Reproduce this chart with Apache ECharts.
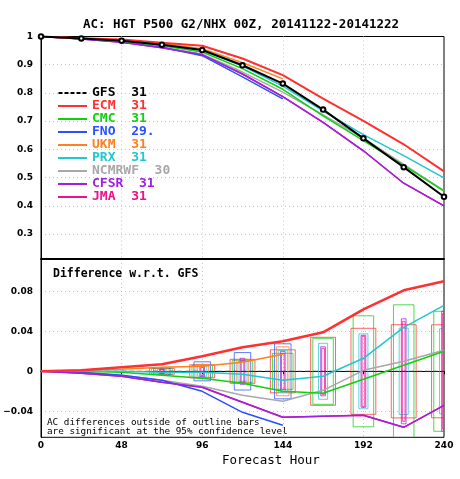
<!DOCTYPE html>
<html lang="en">
<head>
    <meta charset="UTF-8">
    <title>AC HGT P500</title>
    <script src="https://cdn.jsdelivr.net/npm/echarts@6.0.0/dist/echarts.min.js"></script>
    <style>
        html, body { margin: 0; padding: 0; background: #fff; }
        #chart { width: 460px; height: 479px; }
    </style>
</head>
<body>
<div id="chart"></div>
<script>
    // forecast hours and case counts
    var hours = [0, 24, 48, 72, 96, 120, 144, 168, 192, 216, 240];
    var boxHours = [72, 96, 120, 144, 168, 192, 216, 240];
    var models = ['GFS', 'ECM', 'CMC', 'FNO', 'UKM', 'PRX', 'NCMRWF', 'CFSR', 'JMA'];
    var caseCounts = ['31', '31', '31', '29.', '31', '31', '30', '31', '31'];

    // anomaly correlation (top panel)
    var acGFS    = [1.0, 0.993, 0.985, 0.971, 0.952, 0.898, 0.833, 0.741, 0.639, 0.537, 0.432];
    var acECM    = [1.0, 0.994, 0.989, 0.978, 0.967, 0.922, 0.863, 0.780, 0.701, 0.618, 0.522];
    var acCMC    = [1.0, 0.993, 0.984, 0.967, 0.945, 0.886, 0.813, 0.719, 0.631, 0.543, 0.452];
    var acFNO    = [1.0, 0.992, 0.981, 0.962, 0.932, 0.857, 0.779];
    var acUKM    = [1.0, 0.994, 0.987, 0.975, 0.957, 0.907, 0.850];
    var acPRX    = [1.0, 0.993, 0.985, 0.970, 0.951, 0.895, 0.824, 0.736, 0.652, 0.578, 0.499];
    var acNCMRWF = [1.0, 0.992, 0.981, 0.962, 0.937, 0.874, 0.803, 0.722, 0.640, 0.547, 0.454];
    var acCFSR   = [1.0, 0.991, 0.980, 0.960, 0.936, 0.867, 0.787, 0.696, 0.595, 0.480, 0.400];
    var acJMA    = [1.0, 0.991, 0.980, 0.960, 0.936, 0.867, 0.787, 0.696, 0.595, 0.480, 0.400];

    // difference w.r.t. GFS (bottom panel)
    var dfGFS    = [0, 0, 0, 0, 0, 0, 0, 0, 0, 0, 0];
    var dfECM    = [0, 0.001, 0.004, 0.007, 0.015, 0.024, 0.030, 0.039, 0.062, 0.081, 0.090];
    var dfCMC    = [0, 0, -0.001, -0.004, -0.007, -0.012, -0.020, -0.022, -0.008, 0.006, 0.020];
    var dfFNO    = [0, -0.001, -0.004, -0.009, -0.020, -0.041, -0.054];
    var dfUKM    = [0, 0.001, 0.002, 0.004, 0.005, 0.009, 0.017];
    var dfPRX    = [0, 0, 0, -0.001, -0.001, -0.003, -0.009, -0.005, 0.013, 0.044, 0.066];
    var dfNCMRWF = [0, -0.001, -0.004, -0.009, -0.015, -0.024, -0.030, -0.019, 0.001, 0.010, 0.021];
    var dfCFSR   = [0, -0.002, -0.005, -0.011, -0.016, -0.031, -0.046, -0.045, -0.044, -0.056, -0.034];
    var dfJMA    = [0, -0.002, -0.005, -0.011, -0.016, -0.031, -0.046, -0.045, -0.044, -0.056, -0.034];

    // 95% significance half-ranges (outline bars)
    var ciECM  = [0.003, 0.0065, 0.012, 0.0215, 0.034, 0.043, 0.0466, 0.0465];
    var ciCMC  = [0.003, 0.006, 0.011, 0.018, 0.033, 0.0555, 0.0665, 0.060];
    var ciFNO  = [0.003, 0.0095, 0.0187, 0.0275];
    var ciUKM  = [0.003, 0.007, 0.012, 0.0245];
    var ciPRX  = [0.002, 0.005, 0.010, 0.021, 0.028, 0.0375, 0.0432, 0.0425];
    var ciCFSR = [0.002, 0.005, 0.013, 0.020, 0.0245, 0.036, 0.0525, 0.060];
    var ciJMA  = [0.002, 0.004, 0.011, 0.018, 0.023, 0.035, 0.050, 0.058];

    var colors = {
        GFS: '#000000', ECM: '#ff3030', CMC: '#10d010', FNO: '#2850ff', UKM: '#ff8020',
        PRX: '#20c8d0', NCMRWF: '#a8a8a8', CFSR: '#a020e0', JMA: '#f0108c'
    };
    var mono = 'DejaVu Sans Mono';

    function pairs(xs, ys) {
        var out = [];
        for (var i = 0; i < ys.length; i++) out.push([xs[i], ys[i]]);
        return out;
    }

    function lineSeries(name, grid, values, width, extra) {
        var s = {
            name: name, type: 'line', xAxisIndex: grid, yAxisIndex: grid,
            data: pairs(hours, values), symbol: 'none', z: 3,
            lineStyle: { color: colors[name], width: width },
            itemStyle: { color: colors[name] }
        };
        for (var k in extra) s[k] = extra[k];
        return s;
    }

    // outline bar: rectangle [h - hw, h + hw] x [-ci, +ci]
    function boxSeries(name, values, halfWidth) {
        return {
            name: name + ' bars', type: 'custom', xAxisIndex: 1, yAxisIndex: 1,
            data: pairs(boxHours, values), clip: true, z: 1, silent: true,
            encode: { x: 0, y: 1 },
            renderItem: function (params, api) {
                var x = api.value(0), c = api.value(1);
                var p1 = api.coord([x - halfWidth, c]);
                var p2 = api.coord([x + halfWidth, -c]);
                return {
                    type: 'rect',
                    shape: { x: p1[0], y: p1[1], width: p2[0] - p1[0], height: p2[1] - p1[1] },
                    style: { fill: 'none', stroke: colors[name], lineWidth: 1, opacity: 0.75 }
                };
            }
        };
    }

    var legendData = models.map(function (m) {
        var item = { name: m, textStyle: { color: colors[m] } };
        if (m === 'GFS') item.icon = 'path://M0,0h4v2h-4z M6,0h4v2h-4z M12,0h4v2h-4z M18,0h4v2h-4z M24,0h4v2h-4z';
        return item;
    });

    var series = [
        // top panel
        lineSeries('JMA', 0, acJMA, 1.5),
        lineSeries('NCMRWF', 0, acNCMRWF, 1.5),
        lineSeries('FNO', 0, acFNO, 1.5),
        lineSeries('UKM', 0, acUKM, 1.5),
        lineSeries('CFSR', 0, acCFSR, 1.5),
        lineSeries('CMC', 0, acCMC, 1.5),
        lineSeries('PRX', 0, acPRX, 1.5),
        lineSeries('ECM', 0, acECM, 2),
        lineSeries('GFS', 0, acGFS, 2, { symbol: 'emptyCircle', symbolSize: 4.5, z: 4 }),
        // bottom panel bars
        boxSeries('ECM', ciECM, 7.4),
        boxSeries('CMC', ciCMC, 6.1),
        boxSeries('FNO', ciFNO, 4.9),
        boxSeries('UKM', ciUKM, 3.7),
        boxSeries('PRX', ciPRX, 2.7),
        boxSeries('CFSR', ciCFSR, 1.4),
        boxSeries('JMA', ciJMA, 0.8),
        // bottom panel differences
        lineSeries('GFS', 1, dfGFS, 1, { lineStyle: { color: '#333', width: 1, type: [5, 3] } }),
        lineSeries('JMA', 1, dfJMA, 1.5),
        lineSeries('NCMRWF', 1, dfNCMRWF, 1.5),
        lineSeries('FNO', 1, dfFNO, 1.5),
        lineSeries('UKM', 1, dfUKM, 1.5),
        lineSeries('CFSR', 1, dfCFSR, 1.5),
        lineSeries('CMC', 1, dfCMC, 1.5),
        lineSeries('PRX', 1, dfPRX, 1.5),
        lineSeries('ECM', 1, dfECM, 2.5)
    ];

    var gridLine = { show: true, showMinLine: false, showMaxLine: false, lineStyle: { color: '#c4c4c4', type: [1, 3], width: 1 } };
    var tickFont = { fontFamily: 'DejaVu Sans', fontWeight: 'bold', fontSize: 9, color: '#000' };

    var option = {
        animation: false,
        backgroundColor: '#fff',
        title: {
            text: 'AC: HGT P500 G2/NHX 00Z, 20141122-20141222',
            left: 78, top: 13,
            textStyle: { fontFamily: mono, fontWeight: 'bold', fontSize: 12.5, color: '#000' }
        },
        legend: {
            data: legendData, orient: 'vertical', left: 58, top: 86.5, padding: 0,
            itemWidth: 29, itemHeight: 2, itemGap: 0, selectedMode: false,
            icon: 'rect',
            formatter: function (name) { return name + '  ' + caseCounts[models.indexOf(name)]; },
            textStyle: { fontFamily: mono, fontWeight: 'bold', fontSize: 13, lineHeight: 13 }
        },
        grid: [
            { left: 41, right: 16, top: 36.5, height: 222.5, show: true, borderColor: '#000', borderWidth: 1, backgroundColor: 'transparent' },
            { left: 41, right: 16, top: 259, height: 178.3, show: true, borderColor: '#000', borderWidth: 1, backgroundColor: 'transparent' }
        ],
        xAxis: [
            { gridIndex: 0, type: 'value', min: 0, max: 240, interval: 48,
              axisLabel: { show: false }, axisTick: { show: false },
              axisLine: { show: true, lineStyle: { color: '#000', width: 2 } },
              splitLine: gridLine },
            { gridIndex: 1, type: 'value', min: 0, max: 240, interval: 48,
              axisLabel: Object.assign({ margin: 4 }, tickFont),
              axisTick: { show: true, length: 3, lineStyle: { color: '#000' } },
              axisLine: { show: true, lineStyle: { color: '#000', width: 1 } },
              splitLine: gridLine }
        ],
        yAxis: [
            { gridIndex: 0, type: 'value', min: 0.2114, max: 1, minInterval: 0.1, maxInterval: 0.1, splitNumber: 8,
              axisLine: { show: true, lineStyle: { color: '#000' } }, axisTick: { show: false },
              axisLabel: Object.assign({ margin: 8, showMinLabel: false,
                  formatter: function (v) { return String(Math.round(v * 100) / 100); } }, tickFont),
              splitLine: gridLine },
            { gridIndex: 1, type: 'value', min: -0.066, max: 0.1123, minInterval: 0.04, maxInterval: 0.04, splitNumber: 4,
              axisLine: { show: true, lineStyle: { color: '#000' } }, axisTick: { show: false },
              axisLabel: Object.assign({ margin: 8, showMinLabel: false, showMaxLabel: false,
                  formatter: function (v) {
                      var r = Math.round(v * 100) / 100;
                      if (r === 0) return '0';
                      return (r < 0 ? '\u2212' : '') + Math.abs(r).toFixed(2);
                  } }, tickFont),
              splitLine: gridLine }
        ],
        graphic: [
            { type: 'text', left: 53, top: 268.5, silent: true,
              style: { text: 'Difference w.r.t. GFS', fontFamily: mono, fontWeight: 'bold', fontSize: 11.5, fill: '#000' } },
            { type: 'text', left: 47, top: 418.5, silent: true,
              style: { text: 'AC differences outside of outline bars\nare significant at the 95% confidence level',
                       fontFamily: mono, fontSize: 9.3, lineHeight: 9, fill: '#000' } },
            { type: 'text', left: 222, top: 454.5, silent: true,
              style: { text: 'Forecast Hour', fontFamily: mono, fontSize: 12.5, fill: '#000' } }
        ],
        series: series
    };

    var chart = echarts.init(document.getElementById('chart'), null, { renderer: 'canvas' });
    chart.setOption(option);
</script>
</body>
</html>
